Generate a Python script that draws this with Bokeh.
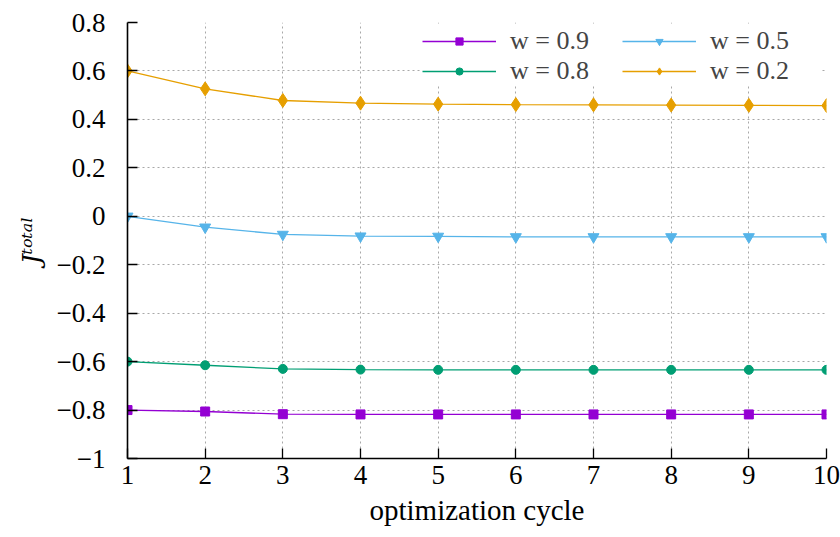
from bokeh.plotting import figure
from bokeh.models import Range1d, FixedTicker, Legend, LegendItem
from bokeh.embed import file_html
from bokeh.resources import INLINE

cycles = [1, 2, 3, 4, 5, 6, 7, 8, 9, 10]
w09 = [-0.800, -0.806, -0.817, -0.818, -0.818, -0.818, -0.818, -0.818, -0.818, -0.818]
w08 = [-0.600, -0.615, -0.630, -0.633, -0.634, -0.634, -0.634, -0.634, -0.634, -0.634]
w05 = [0.000, -0.045, -0.075, -0.082, -0.083, -0.085, -0.085, -0.085, -0.085, -0.085]
w02 = [0.600, 0.526, 0.478, 0.467, 0.463, 0.461, 0.460, 0.459, 0.458, 0.457]

series_labels = ["w = 0.9", "w = 0.8", "w = 0.5", "w = 0.2"]
series_colors = ["#9400d3", "#009e73", "#56b4e9", "#e69f00"]
series_markers = ["square", "circle", "inverted_triangle", "diamond"]
series_sizes = [9, 9, 11, 14]

x_ticks = [1, 2, 3, 4, 5, 6, 7, 8, 9, 10]
y_ticks = [-1.0, -0.8, -0.6, -0.4, -0.2, 0.0, 0.2, 0.4, 0.6, 0.8]
y_tick_labels = ["\u22121", "\u22120.8", "\u22120.6", "\u22120.4", "\u22120.2", "0", "0.2", "0.4", "0.6", "0.8"]

FONT = "Liberation Serif"

p = figure(width=840, height=537, output_backend="svg", toolbar_location=None,
           x_range=Range1d(1, 10), y_range=Range1d(-1, 0.8),
           min_border_left=127, min_border_right=14, min_border_top=22, min_border_bottom=79)
p.outline_line_color = None
p.background_fill_color = "white"
p.border_fill_color = "white"

for ax in (p.xaxis[0], p.yaxis[0]):
    ax.axis_line_color = "black"
    ax.axis_line_width = 1.6
    ax.major_tick_in = 10
    ax.major_tick_out = 0
    ax.major_tick_line_color = "black"
    ax.major_tick_line_width = 1.3
    ax.minor_tick_line_color = None
    ax.major_label_text_font = FONT
    ax.major_label_text_font_size = "27px"
    ax.major_label_text_color = "black"
    ax.axis_label_text_font = FONT
    ax.axis_label_text_font_size = "29px"
    ax.axis_label_text_font_style = "normal"
    ax.axis_label_text_color = "black"

p.xaxis.ticker = FixedTicker(ticks=x_ticks)
p.yaxis.ticker = FixedTicker(ticks=y_ticks)
p.yaxis.major_label_overrides = dict(zip(y_ticks, y_tick_labels))
p.xaxis.axis_label = "optimization cycle"
p.xaxis.major_label_standoff = 7
p.xaxis.axis_label_standoff = 7
p.yaxis.axis_label = "J\u1d57\u1d52\u1d57\u1d43\u02e1"
p.yaxis.axis_label_text_font = "DejaVu Serif"
p.yaxis.axis_label_text_font_size = "25px"
p.yaxis.axis_label_text_font_style = "italic"
p.yaxis.major_label_standoff = 22
p.yaxis.axis_label_standoff = 8

for g in (p.xgrid[0], p.ygrid[0]):
    g.grid_line_color = "#a8a8a8"
    g.grid_line_dash = "2 3"
    g.grid_line_width = 1

items = []
for ys, lab, col, mk, sz in zip([w09, w08, w05, w02], series_labels, series_colors,
                                series_markers, series_sizes):
    r1 = p.line(cycles, ys, line_color=col, line_width=1.3)
    r2 = p.scatter(cycles, ys, marker=mk, size=sz, fill_color=col, line_color=col)
    items.append(LegendItem(label=lab, renderers=[r1, r2]))

legend = Legend(items=items, location="top_right", nrows=2,
                background_fill_color="white", background_fill_alpha=1.0,
                border_line_color=None, label_text_font=FONT, label_text_font_size="26px",
                glyph_width=74, glyph_height=18, spacing=0, margin=4, padding=2,
                label_standoff=14, label_height=18, label_width=112)
p.add_layout(legend, "center")

open("out.html", "w").write(file_html(p, INLINE))
